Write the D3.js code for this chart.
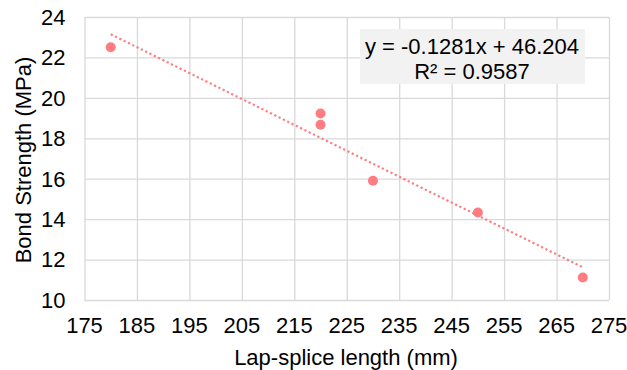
<!DOCTYPE html>
<html>
<head>
<meta charset="utf-8">
<script src="https://cdn.jsdelivr.net/npm/d3@7"></script>
<style>
  body { margin: 0; background: #fff; }
  svg text { font-family: "Liberation Sans", Arial, sans-serif; fill: #000; }
</style>
</head>
<body>
<div id="chart"></div>
<script>
// data
var lapLength = [180, 220, 220, 230, 250, 270];
var bondStrength = [22.5, 19.23, 18.67, 15.9, 14.33, 11.11];
var xTicks = [175, 185, 195, 205, 215, 225, 235, 245, 255, 265, 275];
var yTicks = [10, 12, 14, 16, 18, 20, 22, 24];
var trendSlope = -0.1281;
var trendIntercept = 46.204;
var trendRange = [180, 270];
var equationLines = ["y = -0.1281x + 46.204", "R\u00b2 = 0.9587"];

var config = {
  width: 627,
  height: 370,
  left: 84.5,
  right: 609,
  top: 17,
  bottom: 300,
  fontSize: 22,
  color: "#FF7C80",
  grid: "#D9D9D9"
};

var svg = d3.select("#chart")
  .append("svg")
  .attr("width", config.width)
  .attr("height", config.height);

/* Scale */
var xScale = d3.scaleLinear()
  .domain([175, 275])
  .range([config.left, config.right]);

var yScale = d3.scaleLinear()
  .domain([10, 24])
  .range([config.bottom, config.top]);

/* Gridlines */
svg.append("g")
  .attr("transform", `translate(0, ${config.bottom})`)
  .call(d3.axisBottom(xScale)
    .tickValues(xTicks)
    .tickSize(-(config.bottom - config.top))
    .tickFormat(""))
  .call(g => g.select(".domain").remove())
  .call(g => g.selectAll("line").attr("stroke", config.grid).attr("stroke-width", 1.3));

svg.append("g")
  .attr("transform", `translate(${config.left}, 0)`)
  .call(d3.axisLeft(yScale)
    .tickValues(yTicks)
    .tickSize(-(config.right - config.left))
    .tickFormat(""))
  .call(g => g.select(".domain").remove())
  .call(g => g.selectAll("line").attr("stroke", config.grid).attr("stroke-width", 1.3));

/* Tick labels */
svg.append("g")
  .selectAll("text")
  .data(xTicks)
  .enter()
  .append("text")
  .attr("x", d => xScale(d))
  .attr("y", 332.5)
  .attr("text-anchor", "middle")
  .style("font-size", config.fontSize + "px")
  .text(d => d);

svg.append("g")
  .selectAll("text")
  .data(yTicks)
  .enter()
  .append("text")
  .attr("x", 65.5)
  .attr("y", d => yScale(d) + 7.8)
  .attr("text-anchor", "end")
  .style("font-size", config.fontSize + "px")
  .text(d => d);

/* Axis titles */
svg.append("text")
  .attr("x", 346)
  .attr("y", 364.5)
  .attr("text-anchor", "middle")
  .style("font-size", config.fontSize + "px")
  .text("Lap-splice length (mm)");

svg.append("text")
  .attr("transform", `translate(31, ${(config.top + config.bottom) / 2 + 1.5}) rotate(-90)`)
  .attr("text-anchor", "middle")
  .style("font-size", config.fontSize + "px")
  .text("Bond Strength (MPa)");

/* Trendline */
var line = d3.line()
  .x(d => xScale(d))
  .y(d => yScale(trendSlope * d + trendIntercept));

svg.append("path")
  .attr("d", line(trendRange))
  .attr("fill", "none")
  .attr("stroke", config.color)
  .attr("stroke-width", 2.2)
  .attr("stroke-dasharray", "2.2,2.6");

/* Points */
svg.append("g")
  .selectAll("circle")
  .data(lapLength)
  .enter()
  .append("circle")
  .attr("cx", d => xScale(d))
  .attr("cy", (d, i) => yScale(bondStrength[i]))
  .attr("r", 5)
  .attr("fill", config.color);

/* Equation label */
var label = svg.append("g");
label.append("rect")
  .attr("x", 360)
  .attr("y", 29)
  .attr("width", 225)
  .attr("height", 55)
  .attr("fill", "#F2F2F2");

label.selectAll("text")
  .data(equationLines)
  .enter()
  .append("text")
  .attr("x", 472)
  .attr("y", (d, i) => 53.5 + i * 25)
  .attr("text-anchor", "middle")
  .style("font-size", "22px")
  .text(d => d);
</script>
</body>
</html>
